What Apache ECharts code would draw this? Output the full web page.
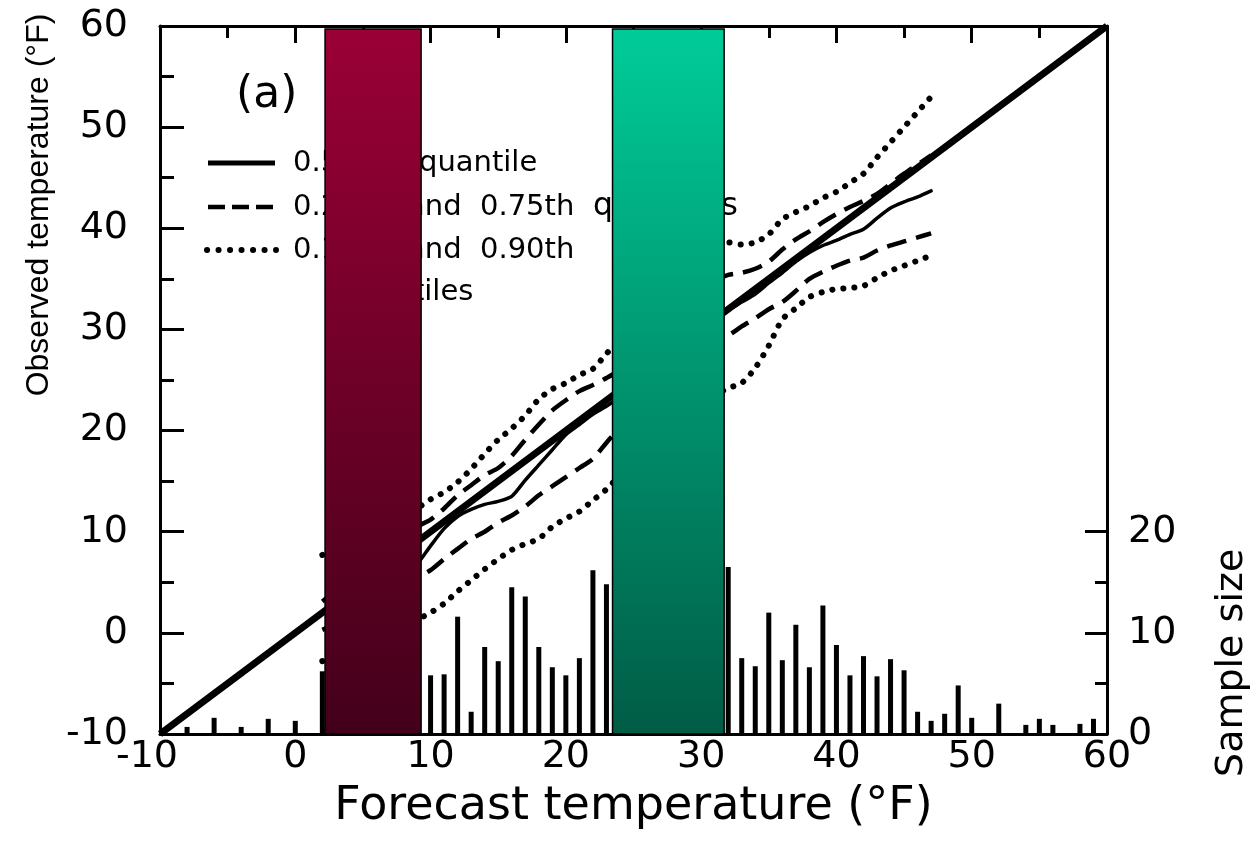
<!DOCTYPE html>
<html>
<head>
<meta charset="utf-8">
<script src="https://cdn.jsdelivr.net/npm/echarts@6/dist/echarts.min.js"></script>
<style>
  html, body { margin: 0; padding: 0; background: #ffffff; }
  #chart { width: 1253px; height: 856px; }
</style>
</head>
<body>
<div id="chart"></div>
<script>
// Forecast temperatures (°F) at which the conditional quantiles were estimated
const forecastTemps = [2, 3, 4, 5, 6, 7, 8, 9, 10, 11, 12, 13, 14, 15, 16, 17, 18, 19, 20, 21, 22, 23,
  24, 25, 26, 27, 28, 29, 30, 31, 32, 33, 34, 35, 36, 37, 38, 39, 40, 41, 42, 43, 44, 45, 46, 47];

// Observed-temperature quantiles (°F)
const q10 = [-2.8, -2.3, -1.7, -1.1, -0.5, 0.1, 0.7, 1.3, 2.0, 2.9, 4.1, 5.2, 6.3, 7.3, 8.2, 8.8, 9.3, 10.5, 11.3, 12.0, 13.1, 14.2,
  15.6, 17.0, 18.3, 19.5, 20.6, 21.7, 22.6, 23.5, 24.2, 24.7, 26.2, 28.4, 31.0, 32.1, 33.2, 33.7, 34.0, 34.1, 34.3, 35.1, 35.8, 36.3, 36.8, 37.3];
const q25 = [0.3, 0.9, 1.5, 2.2, 2.9, 3.7, 4.5, 5.4, 6.2, 7.3, 8.3, 9.3, 10.0, 10.9, 11.6, 12.5, 13.6, 14.5, 15.4, 16.3, 17.2, 18.8,
  20.3, 21.8, 23.2, 24.5, 25.8, 27.0, 28.1, 28.9, 29.4, 30.3, 31.1, 32.0, 32.7, 33.8, 35.0, 35.7, 36.3, 36.8, 37.1, 37.8, 38.3, 38.7, 39.1, 39.5];
const q50 = [2.0, 2.6, 3.2, 3.8, 4.4, 5.1, 5.9, 6.8, 8.6, 10.3, 11.5, 12.2, 12.7, 13.0, 13.5, 15.1, 16.6, 18.1, 19.6, 20.6, 21.6, 22.4,
  23.3, 24.3, 25.3, 26.4, 27.5, 28.7, 29.8, 30.9, 31.9, 32.7, 33.5, 34.6, 35.6, 36.7, 37.6, 38.3, 38.8, 39.4, 39.9, 41.0, 42.0, 42.6, 43.1, 43.7];
const q75 = [3.1, 4.2, 5.3, 6.4, 7.5, 8.6, 9.6, 10.5, 11.2, 12.3, 13.6, 14.6, 15.6, 16.3, 17.5, 19.1, 20.6, 22.0, 23.0, 23.9, 24.5, 25.2,
  26.0, 27.3, 28.7, 30.1, 31.5, 32.8, 33.9, 34.8, 35.4, 35.6, 36.0, 36.7, 37.9, 38.9, 39.7, 40.6, 41.4, 42.1, 42.7, 43.4, 44.4, 45.4, 46.3, 47.2];
const q90 = [7.7, 8.3, 8.9, 9.5, 10.1, 10.8, 11.5, 12.3, 13.2, 13.9, 14.9, 16.2, 17.7, 19.1, 20.2, 21.5, 23.1, 24.1, 24.7, 25.5, 26.1, 27.6,
  29.0, 30.5, 32.0, 33.5, 35.0, 36.3, 37.4, 38.2, 38.6, 38.4, 38.6, 39.4, 40.9, 41.6, 42.2, 43.0, 43.6, 44.5, 45.4, 47.0, 48.5, 50.0, 51.5, 53.0];

// Sample size histogram (forecast temperature, number of cases)
const histTemps = [-8, -6, -4, -2, 0, 2, 10, 11, 12, 13, 14, 15, 16, 17, 18, 19, 20, 21, 22, 23,
  32, 33, 34, 35, 36, 37, 38, 39, 40, 41, 42, 43, 44, 45, 46, 47, 48, 49, 50, 52, 54, 55, 56, 58, 59];
const histCounts = [0.7, 1.6, 0.7, 1.5, 1.3, 6.2, 5.8, 5.9, 11.6, 2.2, 8.6, 7.2, 14.5, 13.6, 8.6, 6.6, 5.8, 7.5, 16.2, 14.8,
  16.5, 7.5, 6.7, 12.0, 7.3, 10.8, 6.6, 12.7, 8.8, 5.8, 7.7, 5.7, 7.4, 6.3, 2.2, 1.3, 2.0, 4.8, 1.6, 3.0, 0.9, 1.5, 0.9, 1.0, 1.5];

// 1:1 reference line
const perfectLine = [[-10, -10], [60, 60]];

// Shaded forecast-temperature bands and their top/bottom colours
const bandRanges = [[2.2, 9.3], [23.45, 31.7]];
const bandColors = [['#9B0036', '#43001A'], ['#00CC99', '#005C45']];

// Legend wording, split into the pieces that are laid out along each row
const legendRows = [
  ['0.50th', 'quantile'],
  ['0.25th', 'and', '0.75th', 'quantiles'],
  ['0.10th', 'and', '0.90th'],
  ['quantiles']
];

const FONT = 'DejaVu Sans';
const BLACK = '#000000';
const pairs = ys => forecastTemps.map((t, i) => [t, ys[i]]);

const chart = echarts.init(document.getElementById('chart'), null, { renderer: 'canvas' });

const quantileSeries = [
  { name: '0.10', data: q10, style: { type: [0.1, 11], width: 6, cap: 'round' } },
  { name: '0.25', data: q25, style: { type: [20, 10], width: 4.5, cap: 'butt' } },
  { name: '0.50', data: q50, style: { type: 'solid', width: 3.5, cap: 'round' } },
  { name: '0.75', data: q75, style: { type: [20, 10], width: 4.5, cap: 'butt' } },
  { name: '0.90', data: q90, style: { type: [0.1, 11], width: 6, cap: 'round' } }
].map(q => ({
  name: q.name,
  type: 'line',
  xAxisIndex: 0,
  yAxisIndex: 0,
  data: pairs(q.data),
  showSymbol: false,
  smooth: 0.25,
  z: 4,
  lineStyle: { color: BLACK, width: q.style.width, type: q.style.type, cap: q.style.cap }
}));

const bandData = bandRanges.map((r, i) => [
  {
    xAxis: r[0], yAxis: -10,
    itemStyle: {
      color: {
        type: 'linear', x: 0, y: 0, x2: 0, y2: 1,
        colorStops: [{ offset: 0, color: bandColors[i][0] }, { offset: 1, color: bandColors[i][1] }]
      },
      borderColor: BLACK, borderWidth: 1.5, opacity: 1
    }
  },
  { xAxis: r[1], yAxis: 59.7 }
]);

// Legend drawn inside the plot: line samples plus wording
const legendY = [163, 207, 250, 292];
const legendX = [[293, 419], [293, 407, 480, 593], [293, 407, 480], [340]];
const legendGraphics = [];
const textEl = (txt, x, y, font) => ({
  type: 'text', z: 1, x: x, y: y,
  style: { text: txt, font: font, fill: BLACK, align: 'left', verticalAlign: 'middle', textAlign: 'left', textVerticalAlign: 'middle' }
});
legendGraphics.push(textEl('(a)', 236, 96, '44px "DejaVu Sans"'));
legendGraphics.push({ type: 'line', z: 1, shape: { x1: 208, y1: legendY[0], x2: 275, y2: legendY[0] }, style: { stroke: BLACK, lineWidth: 5 } });
legendGraphics.push({ type: 'line', z: 1, shape: { x1: 208, y1: legendY[1], x2: 276, y2: legendY[1] }, style: { stroke: BLACK, lineWidth: 4.5, lineDash: [17, 7] } });
legendGraphics.push({ type: 'line', z: 1, shape: { x1: 207, y1: legendY[2], x2: 276, y2: legendY[2] }, style: { stroke: BLACK, lineWidth: 6, lineDash: [0.1, 11.4], lineCap: 'round' } });
legendRows.forEach((row, i) => {
  row.forEach((txt, j) => {
    const font = (i === 1 && j === 3) ? '31.5px "DejaVu Sans"' : '29px "DejaVu Sans"';
    legendGraphics.push(textEl(txt, legendX[i][j], legendY[i], font));
  });
});

const axisLineStyle = { onZero: false, lineStyle: { color: BLACK, width: 3 } };
const labelStyle = { color: BLACK, fontFamily: FONT, fontSize: 38 };

const option = {
  backgroundColor: '#ffffff',
  animation: false,
  grid: [
    { left: 160, right: 146, top: 26, bottom: 122, outerBoundsMode: 'none', containLabel: false },
    { left: 160, right: 146, top: 531.72, bottom: 122, outerBoundsMode: 'none', containLabel: false }
  ],
  xAxis: [
    {
      gridIndex: 0, type: 'value', position: 'bottom', min: -10, max: 60, interval: 10,
      axisLine: axisLineStyle, axisTick: { show: false }, splitLine: { show: false },
      axisLabel: Object.assign({
        margin: 4,
        formatter: v => (v < 0 ? '{neg|' + v + '}' : String(v)),
        rich: { neg: { color: BLACK, fontFamily: FONT, fontSize: 38, padding: [0, 26, 0, 0] } }
      }, labelStyle),
      name: 'Forecast temperature (°F)', nameLocation: 'middle', nameGap: 50,
      nameTextStyle: { color: BLACK, fontFamily: FONT, fontSize: 46 }
    },
    {
      gridIndex: 0, type: 'value', position: 'top', min: -10, max: 60, interval: 10,
      axisLine: axisLineStyle,
      axisTick: { show: true, inside: true, length: 17, lineStyle: { color: BLACK, width: 3 } },
      minorTick: { show: true, splitNumber: 2, length: 12, lineStyle: { color: BLACK, width: 3 } },
      axisLabel: { show: false }, splitLine: { show: false }
    },
    { gridIndex: 1, type: 'value', min: -10, max: 60, show: false }
  ],
  yAxis: [
    {
      gridIndex: 0, type: 'value', position: 'left', min: -10, max: 60, interval: 10,
      axisLine: axisLineStyle,
      axisTick: { show: true, inside: true, length: 24, lineStyle: { color: BLACK, width: 3 } },
      minorTick: { show: true, splitNumber: 2, length: 14, lineStyle: { color: BLACK, width: 3 } },
      splitLine: { show: false },
      axisLabel: Object.assign({ margin: 32 }, labelStyle),
      name: 'Observed temperature (°F)', nameLocation: 'middle', nameRotate: 90, nameGap: 74,
      nameTextStyle: { color: BLACK, fontFamily: 'Liberation Sans', fontSize: 32, padding: [0, 0, 0, 350] }
    },
    {
      gridIndex: 0, type: 'value', position: 'right', min: -10, max: 60,
      axisLine: Object.assign({ show: true }, axisLineStyle), axisTick: { show: false },
      axisLabel: { show: false }, splitLine: { show: false }
    },
    {
      gridIndex: 1, type: 'value', position: 'right', min: 0, max: 20, interval: 10,
      axisLine: { show: false, onZero: false },
      axisTick: { show: true, inside: true, length: 22, lineStyle: { color: BLACK, width: 3 } },
      minorTick: { show: true, splitNumber: 2, length: 12, lineStyle: { color: BLACK, width: 3 } },
      splitLine: { show: false },
      axisLabel: Object.assign({ margin: 21 }, labelStyle),
      name: 'Sample size', nameLocation: 'middle', nameRotate: 90, nameGap: 106,
      nameTextStyle: { color: BLACK, fontFamily: FONT, fontSize: 38, padding: [0, 60, 0, 0] }
    }
  ],
  graphic: { elements: legendGraphics },
  series: [
    {
      name: 'Sample size', type: 'bar', xAxisIndex: 2, yAxisIndex: 2,
      data: histTemps.map((t, i) => [t, histCounts[i]]),
      barWidth: 5, itemStyle: { color: BLACK }, z: 3
    },
    {
      name: '1:1', type: 'line', xAxisIndex: 0, yAxisIndex: 0, data: perfectLine,
      showSymbol: false, z: 5, lineStyle: { color: BLACK, width: 7 }
    },
    ...quantileSeries,
    {
      name: 'bands', type: 'line', xAxisIndex: 0, yAxisIndex: 0, data: [], z: 50,
      markArea: { silent: true, z: 50, data: bandData }
    }
  ]
};

chart.setOption(option);
</script>
</body>
</html>
